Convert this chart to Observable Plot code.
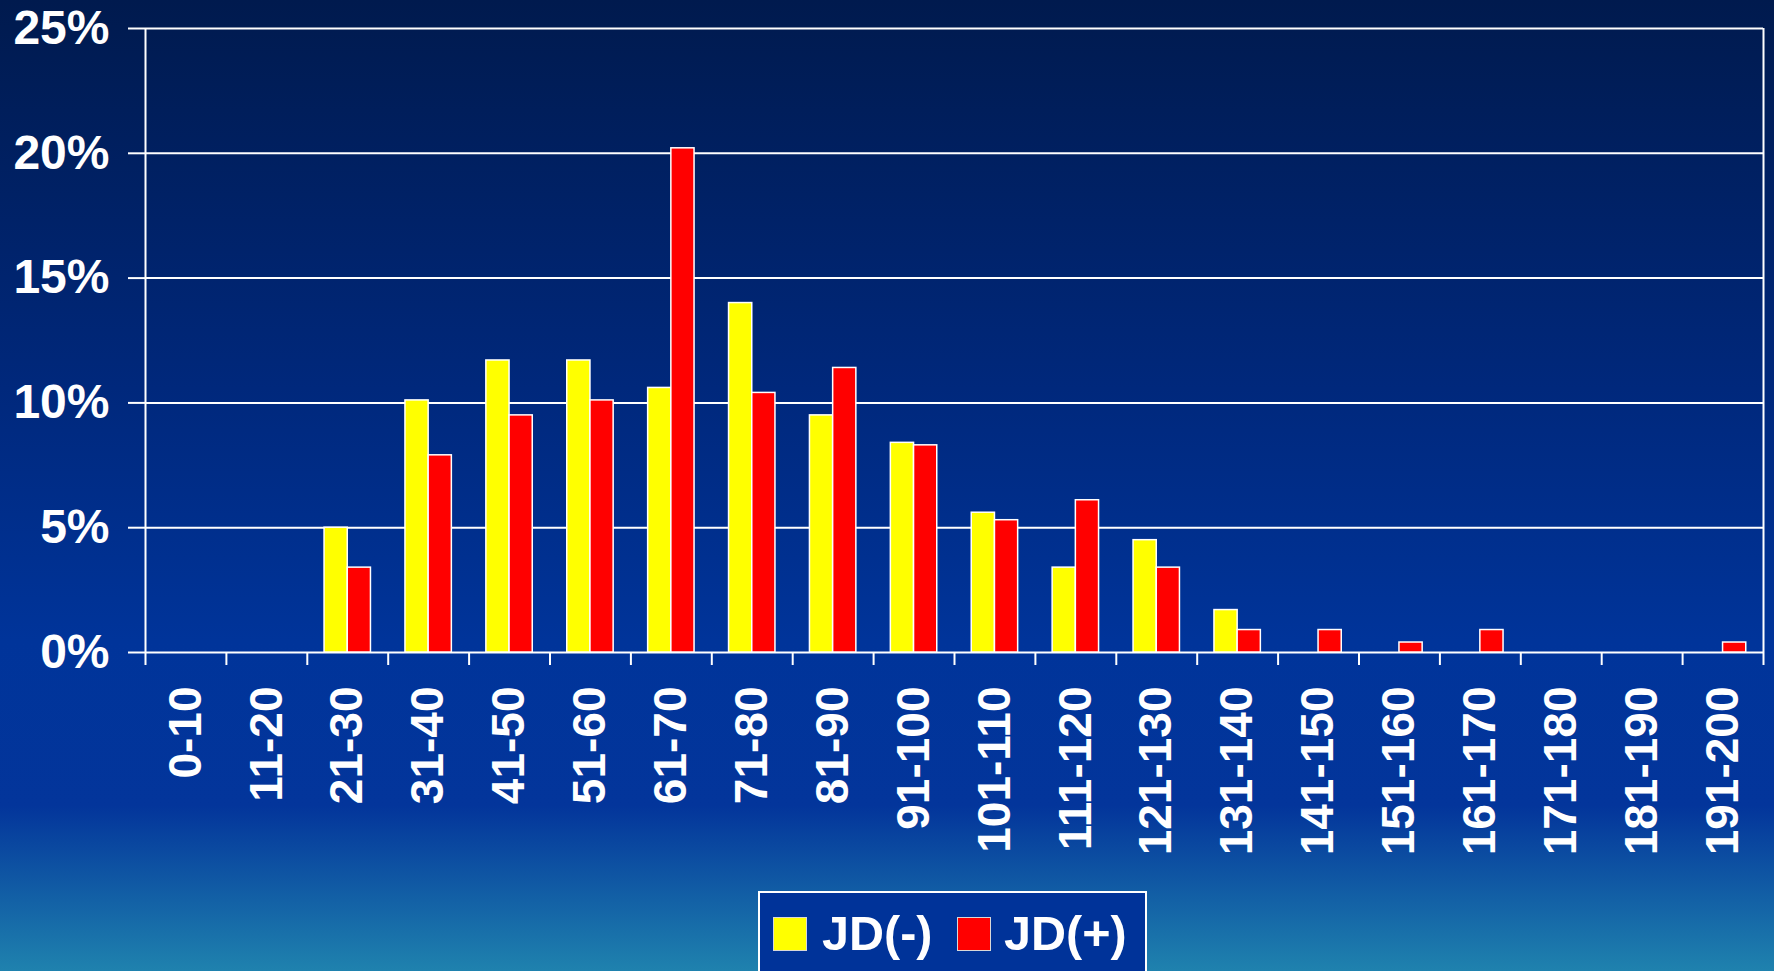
<!DOCTYPE html>
<html>
<head>
<meta charset="utf-8">
<script src="https://cdn.jsdelivr.net/npm/d3@7"></script>
<script src="https://cdn.jsdelivr.net/npm/@observablehq/plot@0.6"></script>
<style>
  html, body { margin: 0; padding: 0; width: 1774px; height: 971px; overflow: hidden; }
  body {
    background: linear-gradient(to bottom, #001a4e 0%, #00287c 40%, #00349a 66%, #03359b 83%, #1f82ae 100%);
    font-family: "Liberation Sans", Arial, sans-serif;
    position: relative;
  }
  #chart svg { display: block; }
  #legend {
    position: absolute; left: 758px; top: 891px; width: 385px; height: 120px;
    border: 2px solid #ffffff; background: #003399; box-sizing: content-box;
  }
  .sw { position: absolute; top: 24px; width: 32px; height: 32px; border: 1px solid #d8d8d8; }
  .lt { position: absolute; top: 16px; color: #fff; font-weight: bold; font-size: 48.5px; line-height: 48px; white-space: nowrap; }
</style>
</head>
<body>
<div id="chart"></div>
<div id="legend">
  <div class="sw" style="left:13px;background:#ffff00"></div>
  <div class="lt" style="left:62px">JD(-)</div>
  <div class="sw" style="left:197px;background:#ff0000"></div>
  <div class="lt" style="left:244px">JD(+)</div>
</div>
<script>
const categories = ["0-10","11-20","21-30","31-40","41-50","51-60","61-70","71-80","81-90","91-100",
  "101-110","111-120","121-130","131-140","141-150","151-160","161-170","171-180","181-190","191-200"];
const jdNeg = [0, 0, 5.0, 10.1, 11.7, 11.7, 10.6, 14.0, 9.5, 8.4, 5.6, 3.4, 4.5, 1.7, 0, 0, 0, 0, 0, 0];
const jdPos = [0, 0, 3.4, 7.9, 9.5, 10.1, 20.2, 10.4, 11.4, 8.3, 5.3, 6.1, 3.4, 0.9, 0.9, 0.4, 0.9, 0, 0, 0.4];
const yTicks = [0, 5, 10, 15, 20, 25];

const rows = categories.map((c, i) => ({cat: c, neg: jdNeg[i], pos: jdPos[i]}));

const W = 1774, H = 880, ML = 145, MR = 11, MT = 28, MB = 228;
const bw = (W - ML - MR) / categories.length;
const barW = 23.2;
const last = categories[categories.length - 1];

const chart = Plot.plot({
  width: W, height: H,
  marginLeft: ML, marginRight: MR, marginTop: MT, marginBottom: MB,
  style: {background: "none", color: "white", fontFamily: "'Liberation Sans', Arial, sans-serif"},
  x: {type: "band", domain: categories, padding: 0, round: false, label: null},
  y: {domain: [0, 25], label: null},
  marks: [
    Plot.ruleY(yTicks, {stroke: "white", strokeWidth: 2}),
    Plot.barY(rows, {filter: d => d.neg > 0, x: "cat", y: "neg", fill: "#ffff00", stroke: "white", strokeWidth: 1.5,
      insetLeft: bw / 2 - barW, insetRight: bw / 2}),
    Plot.barY(rows, {filter: d => d.pos > 0, x: "cat", y: "pos", fill: "#ff0000", stroke: "white", strokeWidth: 1.5,
      insetLeft: bw / 2, insetRight: bw / 2 - barW}),
    Plot.ruleX(categories.slice(1), {x: d => d, dx: -bw / 2, y1: 0, y2: 0, insetBottom: -13, stroke: "white", strokeWidth: 2}),
    Plot.ruleX([categories[0]], {x: d => d, dx: -bw / 2, y1: 25, y2: 0, insetBottom: -13, stroke: "white", strokeWidth: 2}),
    Plot.ruleX([last], {x: d => d, dx: bw / 2, y1: 25, y2: 0, insetBottom: -13, stroke: "white", strokeWidth: 2}),
    Plot.axisY({ticks: yTicks, tickFormat: d => d + "%", tickSize: 17, tickPadding: 19, strokeWidth: 2,
      fontSize: 48, fontWeight: "bold", color: "white"}),
    Plot.axisX({tickSize: 0, tickPadding: 34, tickRotate: -90, fontSize: 46, fontWeight: "bold", color: "white"})
  ]
});
document.getElementById("chart").appendChild(chart);
</script>
</body>
</html>
